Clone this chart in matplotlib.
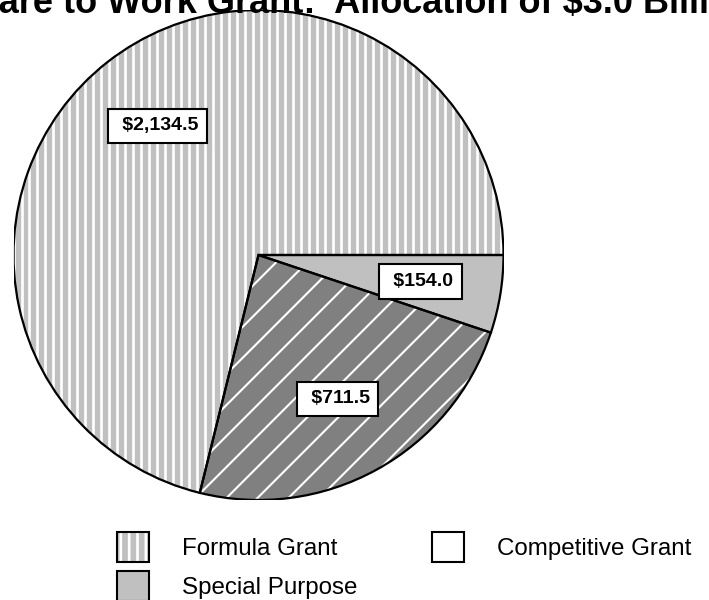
import numpy as np
import matplotlib.pyplot as plt
from matplotlib.patches import Patch, Wedge
from matplotlib.collections import LineCollection

plt.rcParams['font.family'] = ['Liberation Sans', 'DejaVu Sans']
plt.rcParams['hatch.linewidth'] = 1.9

# Welfare to Work grant allocation, $ millions
grants = ['Formula Grant', 'Competitive Grant', 'Special Purpose']
amounts = [2134.5, 711.5, 154.0]
total = sum(amounts)
fills = ['#c0c0c0', '#808080', '#c0c0c0']

fig = plt.figure(figsize=(7.09, 6), dpi=100)
ax = fig.add_axes([13.5 / 709, 100 / 600, 490 / 709, 490 / 600])


def money(pct):
    return ' ${:,.1f}'.format(pct * total / 100)


wedges, _, values = ax.pie(amounts, colors=fills, startangle=0, radius=1,
                           autopct=money, pctdistance=0.67,
                           wedgeprops=dict(edgecolor='none', linewidth=0),
                           textprops=dict(fontsize=14, fontweight='bold'))

px = 1 / 245.0  # one pixel in data units

# vertical white stripes on the formula slice
xs = np.arange(-1, 1, 8 * px)
stripes = ax.vlines(xs, -1, 1, colors='white', linewidth=1.9, zorder=2)
stripes.set_clip_path(wedges[0])

# diagonal white lines on the competitive slice
cs = np.arange(-2, 2, 31 * px)
diag = LineCollection([[(-1, -1 + c), (1, 1 + c)] for c in cs],
                      colors='white', linewidths=1.5, zorder=2)
ax.add_collection(diag, autolim=False)
diag.set_clip_path(wedges[1])

# black outlines on top of the hatching
for w in wedges:
    ax.add_patch(Wedge(w.center, w.r, w.theta1, w.theta2, fill=False,
                       edgecolor='black', linewidth=1.6, zorder=3))

for t in values:
    t.set_zorder(5)
    t.set_bbox(dict(boxstyle='square,pad=0.45', fc='white', ec='black', lw=1.5))

ax.set_xlim(-1, 1)
ax.set_ylim(-1, 1)
ax.set_aspect('equal')
ax.axis('off')

fig.text(338.5 / 709, 587 / 600, 'Welfare to Work Grant:  Allocation of $3.0 Billion',
         ha='center', va='baseline', fontsize=26, fontweight='bold')

formula_h = (Patch(fc='#c0c0c0', ec='none'),
             Patch(fc='none', ec='white', lw=0, hatch='||'),
             Patch(fc='none', ec='black', lw=1.5))
competitive_h = Patch(fc='white', ec='black', lw=1.5)
special_h = Patch(fc='#c0c0c0', ec='black', lw=1.5)

fig.legend([formula_h, special_h, competitive_h],
           [grants[0], grants[2], grants[1]],
           ncol=2, loc='upper left', bbox_to_anchor=(117 / 709, 68 / 600),
           frameon=False, fontsize=17.4, handlelength=1.32, handleheight=1.53,
           handletextpad=1.36, columnspacing=3.1, labelspacing=0.37,
           borderpad=0, borderaxespad=0)

fig.savefig('out.png', dpi=100)
